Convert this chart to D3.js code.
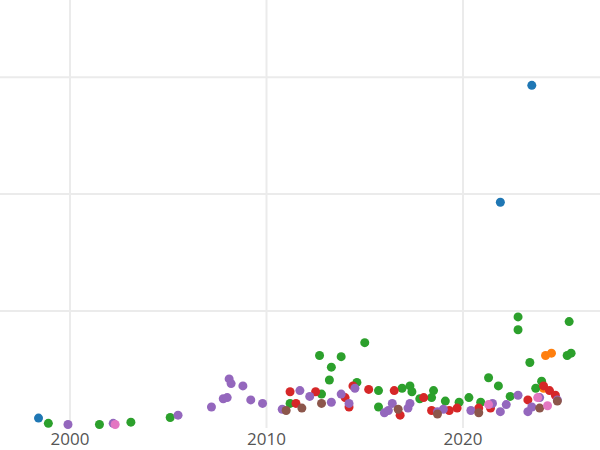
<!DOCTYPE html>
<html><head><meta charset="utf-8">
<script src="https://cdn.jsdelivr.net/npm/d3@7"></script>
<style>body{margin:0;background:#fff}</style>
</head><body><div id="chart"></div>
<script>
var xTicks = [2000, 2010, 2020];
var yGrid = [100, 200, 300];
var seriesNames = ["blue", "orange", "green", "red", "purple", "brown", "pink"];
var blue = [[1998.4,8.5],[2023.5,293],[2021.9,193]];
var orange = [[2024.2,62],[2024.5,64],[2024.1,34]];
var green = [[1998.9,4],[2001.5,3],[2003.1,5],[2005.1,9],[2011.2,21],[2012.7,62],[2013.3,52],[2013.2,41],[2013.8,61],[2015,73],[2015.7,32],[2015.7,18],[2016.9,34],[2017.3,36],[2017.4,31],[2018.5,32],[2018.4,26],[2019.1,23],[2020.3,26],[2020.9,22],[2021.3,43],[2021.8,36],[2022.4,27],[2022.8,95],[2022.8,84],[2023.4,56],[2023.7,34],[2024,40],[2025.3,62],[2025.5,64],[2025.4,91],[2012.8,29],[2014.6,39],[2019.8,22],[2017.8,25]];
var red = [[2011.2,31],[2011.5,21],[2012.5,31],[2014,26],[2014.2,18],[2014.4,36],[2015.2,33],[2016.5,32],[2016.8,11],[2018,26],[2018.4,15],[2019.3,15],[2019.7,17],[2020.8,17],[2021.4,17],[2023.3,24],[2024.1,36],[2024.4,32],[2024.7,28]];
var purple = [[1999.9,3],[2002.2,4],[2005.5,11],[2007.2,18],[2007.8,25],[2008,26],[2008.1,42],[2008.2,38],[2008.8,36],[2009.2,24],[2009.8,21],[2010.8,16],[2011.7,32],[2012.2,27],[2013.3,22],[2013.8,29],[2014.2,21],[2014.5,34],[2016,13],[2016.2,15],[2016.4,21],[2017.2,17],[2017.3,21],[2018.7,14],[2019,16],[2020.4,15],[2021.5,21],[2021.9,14],[2022.2,20],[2022.8,28],[2023.3,14],[2023.5,18],[2023.9,26],[2024.8,24]];
var brown = [[2011,15],[2011.8,17],[2012.8,21],[2016.7,16],[2018.7,12],[2020.8,13],[2023.9,17],[2024.8,23]];
var pink = [[2002.3,3],[2023.8,26],[2024.3,19],[2021.3,20]];

var width = 600, height = 450;
var svg = d3.select("#chart").append("svg").attr("width", width).attr("height", height);
var x = d3.scaleLinear().domain([1996.44, 2026.97]).range([0, 600]);
var y = d3.scaleLinear().domain([0, 366]).range([428, 0]);

svg.selectAll("line.h").data(yGrid).enter().append("line")
  .attr("x1", 0).attr("x2", width).attr("y1", y).attr("y2", y)
  .attr("stroke", "#ebebeb").attr("stroke-width", 2);
svg.selectAll("line.v").data(xTicks).enter().append("line")
  .attr("y1", 0).attr("y2", 428).attr("x1", x).attr("x2", x)
  .attr("stroke", "#ebebeb").attr("stroke-width", 2);
svg.selectAll("text.t").data(xTicks).enter().append("text")
  .attr("x", x).attr("y", 445).attr("text-anchor", "middle")
  .attr("font-family", "Open Sans, sans-serif").attr("font-size", 17).attr("fill", "#555")
  .text(function(d) { return d; });

var colors = d3.schemeCategory10;
[blue, orange, green, red, purple, brown, pink].forEach(function(data, i) {
  svg.append("g").selectAll("circle").data(data).enter().append("circle")
    .attr("cx", function(d) { return x(d[0]); })
    .attr("cy", function(d) { return y(d[1]); })
    .attr("r", 4.5).attr("fill", colors[i]);
});
</script></body></html>
